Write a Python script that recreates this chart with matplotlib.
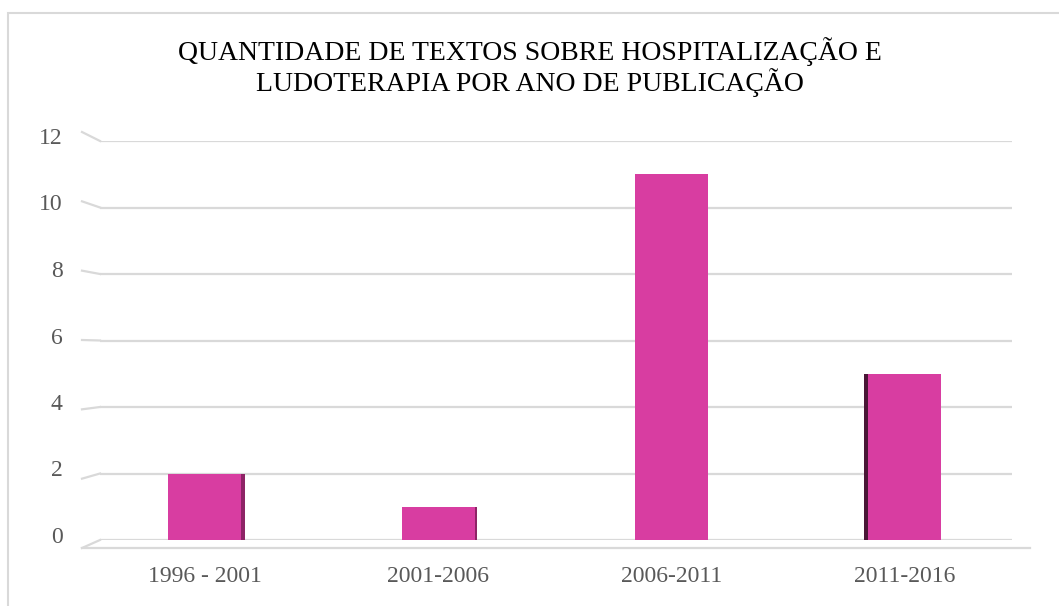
"""
Quantidade de textos sobre hospitalização e ludoterapia por ano de publicação.
Bar chart drawn to look like the Excel 3D column chart.
"""

import matplotlib
matplotlib.use("Agg")
import matplotlib.pyplot as plt
from matplotlib.patches import Rectangle
from matplotlib.transforms import ScaledTranslation


TITLE = "QUANTIDADE DE TEXTOS SOBRE HOSPITALIZAÇÃO E\nLUDOTERAPIA POR ANO DE PUBLICAÇÃO"
periods = ["1996 - 2001", "2001-2006", "2006-2011", "2011-2016"]
counts = [2, 1, 11, 5]
y_ticks = [0, 2, 4, 6, 8, 10, 12]

# which side of each bar shows its depth face (perspective), and its width in px
side_face = ["right", "right", None, "left"]
side_px = [4, 2, 0, 4]

FACE = "#d83da1"
SIDE_COLORS = {"right": "#8e2466", "left": "#4a1636"}
GRID = "#d9d9d9"
TEXT = "#595959"

plt.rcParams["font.family"] = ["Liberation Serif", "DejaVu Serif"]

fig = plt.figure(figsize=(10.59, 6.06), dpi=100)
ax_w_px = 912
ax_h_px = 399
ax = fig.add_axes([100 / 1059, 66 / 606, ax_w_px / 1059, ax_h_px / 606])

x = list(range(len(periods)))
ax.set_xlim(-0.45, 3.46)
ax.set_ylim(0, 12)
px_per_x = ax_w_px / (3.46 + 0.45)
px_per_y = ax_h_px / 12

# gridlines
for v in y_ticks:
    ax.axhline(v, color=GRID, lw=1.6, zorder=0)
    # slanted perspective stub on the left
    shift = (v * 17 / 12 - 8) / px_per_y
    ax.plot([-18 / ax_w_px, 0], [v + shift, v], transform=ax.get_yaxis_transform(),
            color=GRID, lw=1.6, clip_on=False, zorder=0)

# front edge of the floor
floor_y = -8 / px_per_y
ax.plot([-18 / ax_w_px, (1030 - 100) / ax_w_px], [floor_y, floor_y],
        transform=ax.get_yaxis_transform(), color=GRID, lw=1.6, clip_on=False, zorder=0)

bar_w = 73 / px_per_x
bars = ax.bar(x, counts, width=bar_w, color=FACE, edgecolor="none", zorder=3)

# depth faces
for xi, val, side, spx in zip(x, counts, side_face, side_px):
    if side is None:
        continue
    sw = spx / px_per_x
    if side == "right":
        sx = xi + bar_w / 2 + sw / 2
    else:
        sx = xi - bar_w / 2 - sw / 2
    ax.bar(sx, val, width=sw, color=SIDE_COLORS[side], edgecolor="none", zorder=2)

for s in ax.spines.values():
    s.set_visible(False)

ax.set_xticks(x)
ax.set_xticklabels(periods, fontsize=17, color=TEXT)
ax.set_yticks(y_ticks)
ax.set_yticklabels([str(t) for t in y_ticks], fontsize=17, color=TEXT)
ax.tick_params(axis="both", length=0)
ax.tick_params(axis="x", pad=19)
ax.tick_params(axis="y", pad=27)

# y labels sit a little above their gridlines in the original
lift = ScaledTranslation(0, 5 / 100, fig.dpi_scale_trans)
for lab in ax.get_yticklabels():
    lab.set_transform(lab.get_transform() + lift)

fig.text(0.5, 1 - 67 / 606, TITLE, ha="center", va="center", fontsize=20,
         color="black", linespacing=1.1)

# chart area border (only top and left edges visible in the crop)
fig.add_artist(Rectangle((8 / 1059, -0.1), 1.2, 1.1 - 13 / 606,
                         transform=fig.transFigure, fill=False,
                         edgecolor=GRID, lw=1.5))

fig.savefig("out.png", dpi=100)
